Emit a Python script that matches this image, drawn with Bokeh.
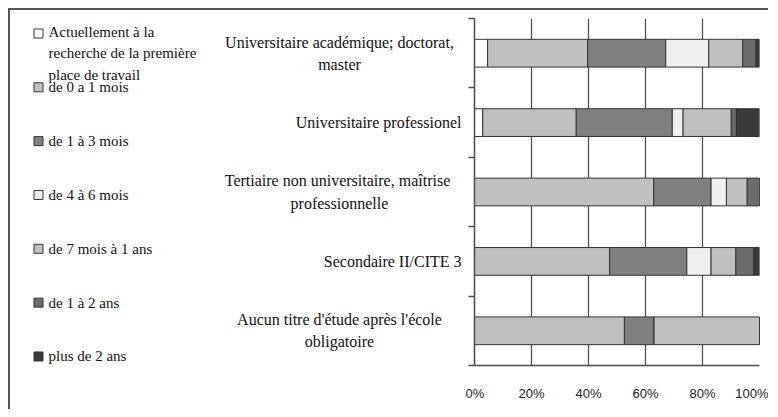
from bokeh.plotting import figure
from bokeh.models import Range1d, FixedTicker, ColumnDataSource
from bokeh.layouts import row
from bokeh.core.properties import value
from bokeh.embed import file_html
from bokeh.resources import INLINE

# ---- data (top to bottom) ----
categories = [
    "Universitaire académique; doctorat,\nmaster",
    "Universitaire professionel",
    "Tertiaire  non universitaire, maîtrise\nprofessionnelle",
    "Secondaire II/CITE 3",
    "Aucun titre d'étude après l'école\nobligatoire",
]
series_names = [
    "Actuellement à la\nrecherche de la première\nplace de travail",
    "de 0 a 1 mois",
    "de 1 à 3 mois",
    "de 4 à 6 mois",
    "de 7 mois  à 1 ans",
    "de 1 à 2 ans",
    "plus de 2 ans",
]
actuellement = [4.6, 2.9, 0.0, 0.0, 0.0]
mois_0_1 = [35.1, 32.8, 62.9, 47.4, 52.6]
mois_1_3 = [27.4, 33.7, 20.1, 27.1, 10.4]
mois_4_6 = [15.1, 3.8, 5.4, 8.5, 0.0]
mois_7_12 = [11.9, 16.9, 7.3, 8.7, 37.0]
ans_1_2 = [4.7, 1.8, 4.3, 6.3, 0.0]
plus_2_ans = [1.2, 8.1, 0.0, 2.0, 0.0]
x_ticks = [0, 20, 40, 60, 80, 100]
x_tick_labels = ["0%", "20%", "40%", "60%", "80%", "100%"]

colors = ["#ffffff", "#c0c0c0", "#808080", "#efefef", "#c0c0c0", "#6b6b6b", "#3a3a3a"]

serif = "'Liberation Serif', 'Times New Roman', serif"
TOP, BOTTOM, H = 8, 44, 399

# ---- chart ----
n = len(categories)
keys = ["s%d" % i for i in range(len(series_names))]
centers = [n - 0.5 - i for i in range(n)]
data = dict(y=centers)
for k, vals in zip(keys, [actuellement, mois_0_1, mois_1_3, mois_4_6, mois_7_12, ans_1_2, plus_2_ans]):
    data[k] = vals
src = ColumnDataSource(data)

p = figure(width=303, height=H, x_range=Range1d(0, 100), y_range=Range1d(0, n),
           output_backend="svg", toolbar_location=None,
           min_border_left=9, min_border_right=9, min_border_top=TOP, min_border_bottom=BOTTOM)
p.outline_line_color = None

p.hbar_stack(keys, y="y", height=0.4, source=src, fill_color=colors,
             line_color="#333333", line_width=1)

p.xgrid.ticker = FixedTicker(ticks=x_ticks)
p.xgrid.grid_line_color = "#4a4a4a"
p.xgrid.grid_line_width = 1.2
p.ygrid.grid_line_color = None

p.xaxis.ticker = FixedTicker(ticks=x_ticks)
p.xaxis.major_label_overrides = {t: l for t, l in zip(x_ticks, x_tick_labels)}
p.xaxis.major_tick_out = 0
p.xaxis.major_tick_in = 0
p.xaxis.minor_tick_out = 0
p.xaxis.minor_tick_in = 0
p.xaxis.axis_line_color = "#4a4a4a"
p.xaxis.axis_line_width = 1.5
p.xaxis.major_label_standoff = 20
p.xaxis.major_label_text_font = "Liberation Sans"
p.xaxis.major_label_text_font_size = "13px"
p.xaxis.major_label_text_color = "#222222"

p.yaxis.ticker = FixedTicker(ticks=list(range(n + 1)))
p.yaxis.major_label_overrides = {i: "" for i in range(n + 1)}
p.yaxis.major_label_standoff = 0
p.yaxis.major_tick_out = 6
p.yaxis.major_tick_in = 0
p.yaxis.minor_tick_out = 0
p.yaxis.minor_tick_in = 0
p.yaxis.major_tick_line_color = "#4a4a4a"
p.yaxis.major_tick_line_width = 1.5
p.yaxis.axis_line_color = "#4a4a4a"
p.yaxis.axis_line_width = 1.5

# ---- category label panel (shares y range with the chart) ----
label_w = 257
right_anchor = 253   # right edge of single-line labels
center_anchor = 131  # centre of multi-line label blocks
lab_src = ColumnDataSource(dict(
    x=[center_anchor if "\n" in c else right_anchor for c in categories],
    y=centers,
    t=categories,
    a=["center" if "\n" in c else "right" for c in categories],
))
lb = figure(width=label_w, height=H, x_range=Range1d(0, label_w), y_range=p.y_range,
            output_backend="svg", toolbar_location=None,
            min_border_left=0, min_border_right=0, min_border_top=TOP, min_border_bottom=BOTTOM)
lb.axis.visible = False
lb.grid.visible = False
lb.outline_line_color = None
lb.text(x="x", y="y", text="t", source=lab_src, text_align="a", text_baseline="middle",
        text_font=value(serif), text_font_size="16px", text_color="#111111",
        text_line_height=1.3)

# ---- legend figure ----
m = len(series_names)
line_px = 20
leg_src = ColumnDataSource(dict(
    x=[0] * m,
    y=list(range(m)),
    t=series_names,
    c=colors,
    off=[(name.count("\n")) * line_px / 2 for name in series_names],
))
lg = figure(width=198, height=H, x_range=Range1d(-28, 170), y_range=Range1d(6.168, -0.2787),
            output_backend="svg", toolbar_location=None,
            min_border_left=0, min_border_right=0, min_border_top=TOP, min_border_bottom=BOTTOM)
lg.axis.visible = False
lg.grid.visible = False
lg.outline_line_color = None
lg.scatter(x="x", y="y", source=leg_src, marker="square", size=9, fill_color="c",
           line_color="#333333", line_width=1)
lg.text(x="x", y="y", text="t", source=leg_src, x_offset=10, y_offset="off",
        text_baseline="middle", text_align="left", text_font=value(serif),
        text_font_size="15px", text_color="#111111", text_line_height=1.33)

layout = row(lg, lb, p, margin=(8, 0, 0, 8),
             styles={"border-left": "2px solid #555555", "border-top": "2px solid #555555"})

open("out.html", "w").write(file_html(layout, INLINE))
